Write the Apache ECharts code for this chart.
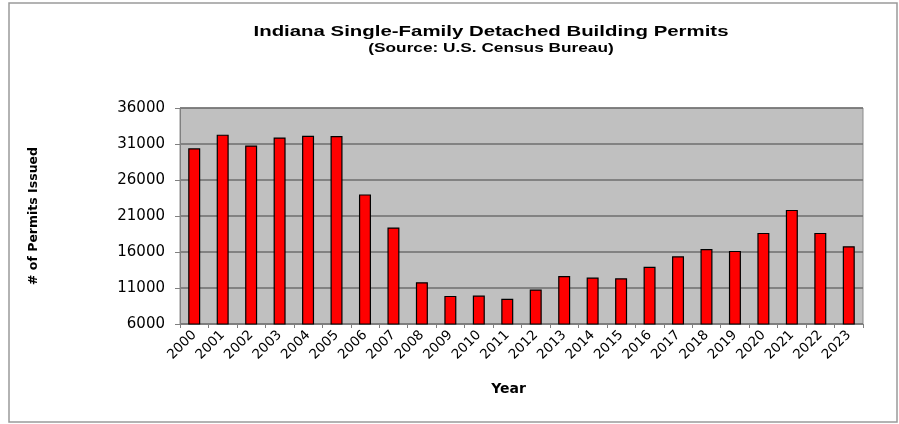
<!DOCTYPE html>
<html>
<head>
<meta charset="utf-8">
<script src="https://cdn.jsdelivr.net/npm/echarts@6/dist/echarts.min.js"></script>
<style>
  html, body { margin: 0; padding: 0; background: #fff; }
  #main { width: 899px; height: 424px; }
</style>
</head>
<body>
<div id="main"></div>
<script>
// data
const years = ['2000', '2001', '2002', '2003', '2004', '2005', '2006', '2007', '2008', '2009', '2010', '2011',
  '2012', '2013', '2014', '2015', '2016', '2017', '2018', '2019', '2020', '2021', '2022', '2023'];
const permits = [30400, 32300, 30800, 31900, 32150, 32100, 24000, 19400, 11800, 9900, 9950, 9500,
  10800, 12650, 12450, 12350, 13950, 15400, 16400, 16150, 18650, 21850, 18650, 16800];
const yMin = 6000;
const yMax = 36000;
const yStep = 5000;
const titleText = 'Indiana Single-Family Detached Building Permits';
const subText = '(Source: U.S. Census Bureau)';

// the source image is a bit stretched sideways, so a wide face fits best
const font = '"DejaVu Sans", Verdana, sans-serif';
const arial = '"Liberation Sans", Arial, sans-serif';

const chart = echarts.init(document.getElementById('main'));

chart.setOption({
  backgroundColor: '#fff',
  animation: false,
  graphic: [
    {
      type: 'rect',
      shape: { x: 9, y: 3, width: 888, height: 419 },
      style: { fill: 'none', stroke: '#9a9a9a', lineWidth: 1.5 },
      z: -1
    },
    // titles drawn as text elements so they can be stretched like the source
    {
      type: 'text',
      x: 491,
      y: 32,
      scaleX: 1.36,
      style: {
        text: titleText,
        font: 'bold 15px ' + arial,
        fill: '#000',
        align: 'center',
        verticalAlign: 'middle'
      }
    },
    {
      type: 'text',
      x: 491,
      y: 49,
      scaleX: 1.38,
      style: {
        text: subText,
        font: 'bold 12.5px ' + arial,
        fill: '#000',
        align: 'center',
        verticalAlign: 'middle'
      }
    }
  ],
  grid: {
    left: 180,
    right: 36,
    top: 108,
    bottom: 100,
    show: true,
    backgroundColor: '#c0c0c0',
    borderColor: '#8c8c8c',
    borderWidth: 1
  },
  xAxis: {
    type: 'category',
    data: years,
    name: 'Year',
    nameLocation: 'middle',
    nameGap: 58,
    nameTextStyle: { fontFamily: font, fontWeight: 'bold', fontSize: 14, color: '#000', padding: [0, 26, 0, 0] },
    axisLine: { lineStyle: { color: '#808080', width: 1 } },
    axisTick: { show: true, length: 4, lineStyle: { color: '#808080' } },
    axisLabel: {
      rotate: 45,
      interval: 0,
      margin: 9,
      fontFamily: font,
      fontSize: 13.5,
      color: '#000'
    }
  },
  yAxis: {
    type: 'value',
    min: yMin,
    max: yMax,
    interval: yStep,
    name: '# of Permits Issued',
    nameLocation: 'middle',
    nameGap: 140,
    nameRotate: 90,
    nameTextStyle: { fontFamily: font, fontWeight: 'bold', fontSize: 12.5, color: '#000' },
    axisLine: { show: true, lineStyle: { color: '#808080' } },
    axisTick: { show: true, length: 5, lineStyle: { color: '#808080' } },
    axisLabel: {
      fontFamily: font,
      fontSize: 15,
      color: '#000',
      margin: 15,
      formatter: v => String(v)
    },
    splitLine: { show: true, lineStyle: { color: '#6e6e6e', width: 1.5 } }
  },
  series: [
    {
      type: 'bar',
      data: permits,
      barWidth: 12,
      itemStyle: { color: '#ff0000', borderColor: '#000', borderWidth: 1.2 }
    }
  ]
});
</script>
</body>
</html>
